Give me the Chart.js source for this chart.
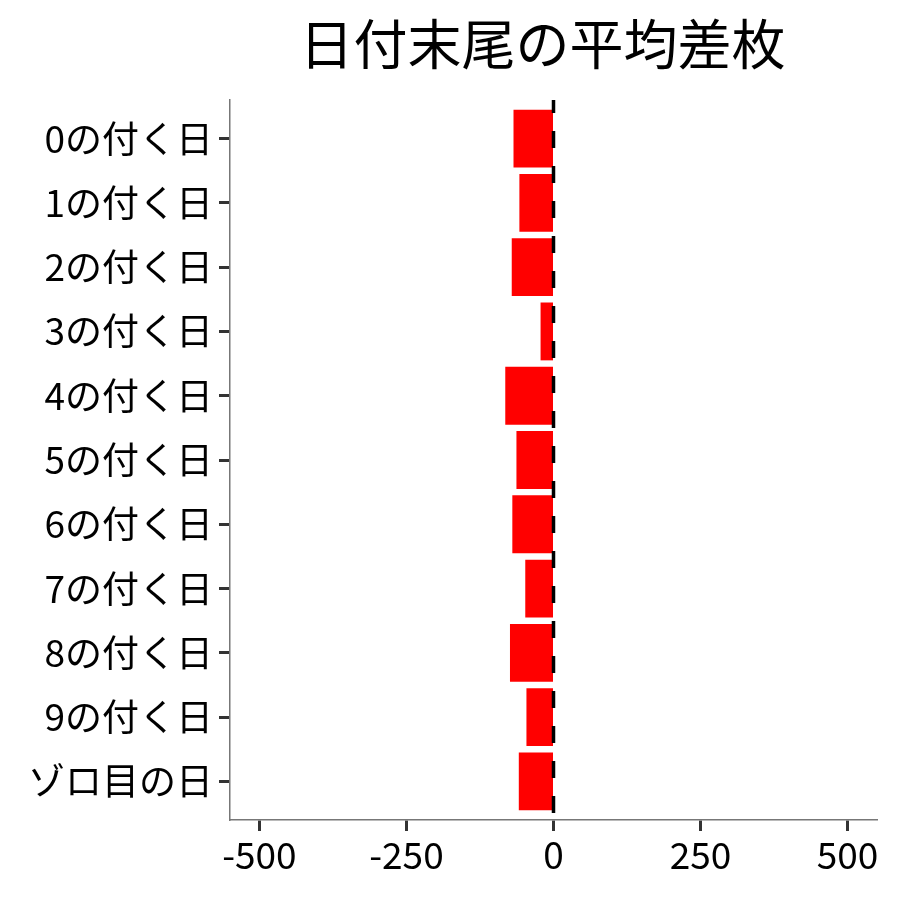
<!DOCTYPE html>
<html>
<head>
<meta charset="utf-8">
<script src="https://cdn.jsdelivr.net/npm/chart.js@4"></script>
<style>
  html, body { margin: 0; padding: 0; background: #fff; }
  #wrap { width: 900px; height: 900px; }
</style>
</head>
<body>
<div id="wrap"><canvas id="diffChart"></canvas></div>
<script>
// 日付末尾ごとの平均差枚
const categories = ['0の付く日', '1の付く日', '2の付く日', '3の付く日', '4の付く日',
    '5の付く日', '6の付く日', '7の付く日', '8の付く日', '9の付く日', 'ゾロ目の日'];
const avgDiff = [-68, -58, -71, -22, -82, -63, -70, -48, -74, -46, -59];
const xTicks = [-500, -250, 0, 250, 500];
const chartTitle = '日付末尾の平均差枚';

const FONT = '"Noto Sans CJK JP", "Noto Sans", sans-serif';

// title over the panel + dashed zero line on top of bars
const overlay = {
    id: 'overlay',
    afterDatasetsDraw(chart) {
        const { ctx, chartArea, scales } = chart;
        const x0 = scales.x.getPixelForValue(0);
        ctx.save();
        ctx.strokeStyle = '#000';
        ctx.lineWidth = 3.5;
        ctx.setLineDash([17, 18]);
        ctx.lineDashOffset = 4;
        ctx.beginPath();
        ctx.moveTo(x0, chartArea.top);
        ctx.lineTo(x0, chartArea.bottom);
        ctx.stroke();
        ctx.restore();
    },
    afterDraw(chart) {
        const { ctx, chartArea } = chart;
        ctx.save();
        ctx.fillStyle = '#000';
        ctx.font = '54px ' + FONT;
        ctx.textAlign = 'center';
        ctx.textBaseline = 'middle';
        ctx.fillText(chartTitle, (chartArea.left + chartArea.right) / 2 - 11, 44);
        ctx.restore();
    }
};

document.addEventListener('DOMContentLoaded', function() {
    const ctx = document.getElementById('diffChart');
    new Chart(ctx, {
        type: 'bar',
        data: {
            datasets: [{
                data: avgDiff.map((v, i) => ({ x: v, y: i })),
                backgroundColor: '#ff0000',
                borderWidth: 0,
                barPercentage: 0.9,
                categoryPercentage: 1.0
            }]
        },
        options: {
            indexAxis: 'y',
            responsive: true,
            maintainAspectRatio: false,
            animation: false,
            layout: { padding: { top: 100, right: 23, left: 0, bottom: 0 } },
            plugins: {
                legend: { display: false },
                tooltip: { enabled: false }
            },
            scales: {
                x: {
                    type: 'linear',
                    min: -550,
                    max: 550,
                    afterBuildTicks(scale) {
                        scale.ticks = xTicks.map(v => ({ value: v }));
                    },
                    afterFit(scale) { scale.height = 80; },
                    grid: {
                        drawOnChartArea: false,
                        tickLength: 11,
                        tickWidth: 3,
                        tickColor: '#333'
                    },
                    border: { color: '#777', width: 1.5 },
                    ticks: {
                        color: '#000',
                        padding: 2,
                        font: { family: FONT, size: 37 }
                    }
                },
                y: {
                    type: 'linear',
                    reverse: true,
                    offset: false,
                    min: -0.6,
                    max: categories.length - 0.4,
                    afterBuildTicks(scale) {
                        scale.ticks = categories.map((c, i) => ({ value: i }));
                    },
                    afterFit(scale) { scale.width = 230; },
                    grid: {
                        offset: false,
                        drawOnChartArea: false,
                        tickLength: 11,
                        tickWidth: 3,
                        tickColor: '#333'
                    },
                    border: { color: '#777', width: 1.5 },
                    ticks: {
                        color: '#000',
                        padding: 6,
                        font: { family: FONT, size: 37 },
                        callback: v => categories[v]
                    }
                }
            }
        },
        plugins: [overlay]
    });
});
</script>
</body>
</html>
